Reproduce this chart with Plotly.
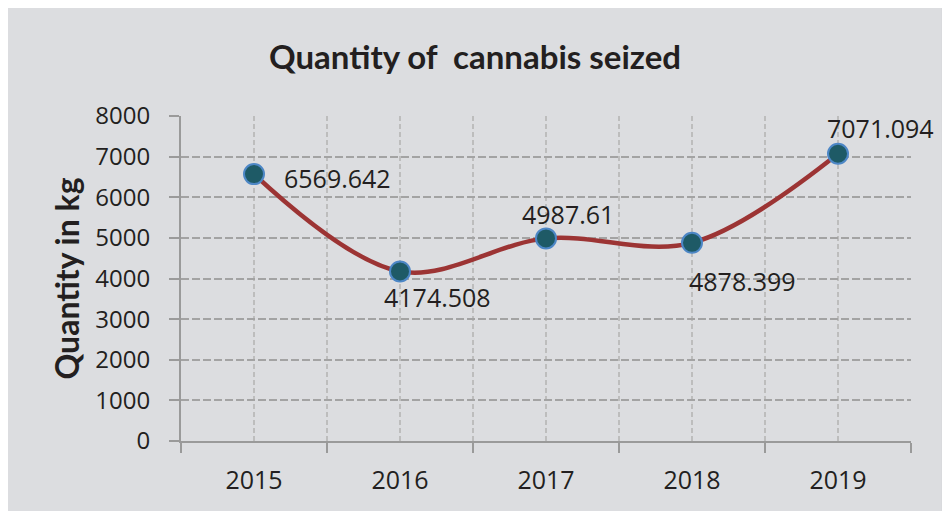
import plotly.graph_objects as go

years = [2015, 2016, 2017, 2018, 2019]
quantity = [6569.642, 4174.508, 4987.61, 4878.399, 7071.094]
label_text = ["6569.642", "4174.508", "4987.61", "4878.399", "7071.094"]
# label offsets (pixels) relative to the point
label_dx = [83, 37, 22, 50, 42]
label_dy = [-4, -26, 24, -38, 26]

y_ticks = [0, 1000, 2000, 3000, 4000, 5000, 6000, 7000, 8000]
title_text = "Quantity of  cannabis seized"
y_title = "Quantity in kg"

BG = "#dcdde0"
HGRID = "#a3a3a3"
VGRID = "#bdbdbd"
AXIS = "#9a9a9a"
TXT = "#231f20"

fig = go.Figure()
fig.add_trace(go.Scatter(
    x=years, y=quantity, mode="lines+markers",
    line=dict(color="#9c3434", width=4.5, shape="spline", smoothing=1.0),
    marker=dict(size=20, color="#1e5a66", line=dict(color="#4d87c6", width=2)),
    hoverinfo="skip", showlegend=False,
))

for xv, yv, t, dx, dy in zip(years, quantity, label_text, label_dx, label_dy):
    fig.add_annotation(x=xv, y=yv, xref="x", yref="y", text=t, showarrow=False,
                       xshift=dx, yshift=dy,
                       font=dict(family="Open Sans", size=25, color=TXT))

# chart frame (page px: x 4..943, y 7..bottom); plot area page px x 181..911, y 116..441
fig.add_shape(type="rect", xref="paper", yref="paper",
              x0=-0.2425, x1=1.0438, y0=-0.3, y1=1.3354,
              fillcolor=BG, line=dict(color="#8e8e8e", width=2), layer="below")

half = [y - 0.5 for y in years] + [years[-1] + 0.5]

fig.update_layout(
    width=942, height=503,
    margin=dict(l=173, r=39, t=108, b=70),
    paper_bgcolor="white", plot_bgcolor="rgba(0,0,0,0)",
    title=dict(text="<b>" + title_text + "</b>", x=(475 - 8) / 942, xref="container",
               xanchor="center",
               y=1 - 49 / 503, yref="container", yanchor="middle",
               font=dict(family="Lato", size=33, color=TXT)),
    xaxis=dict(range=[2014.5, 2019.5], tickvals=years, ticktext=[str(y) for y in years],
               showgrid=True, gridcolor=VGRID, griddash="5px,3px", gridwidth=2,
               ticks="", showline=True, linecolor=AXIS, linewidth=2,
               ticklabelstandoff=16, zeroline=False,
               tickfont=dict(family="Open Sans", size=25, color=TXT),
               minor=dict(tickvals=half, ticks="outside", ticklen=10, tickcolor=AXIS,
                          tickwidth=2, showgrid=True, gridcolor=VGRID, griddash="5px,3px",
                          gridwidth=2)),
    yaxis=dict(range=[0, 8000], tickvals=y_ticks, showgrid=True, gridcolor=HGRID,
               griddash="8px,3px", gridwidth=2, zeroline=False,
               showline=True, linecolor=AXIS, linewidth=2,
               ticks="outside", ticklen=10, tickcolor=AXIS, tickwidth=2,
               ticklabelstandoff=14,
               tickfont=dict(family="Open Sans", size=24, color=TXT),
               title=dict(text="<b>" + y_title + "</b>", standoff=6,
                          font=dict(family="Lato", size=32, color=TXT))),
)

fig.write_html("out.html")
